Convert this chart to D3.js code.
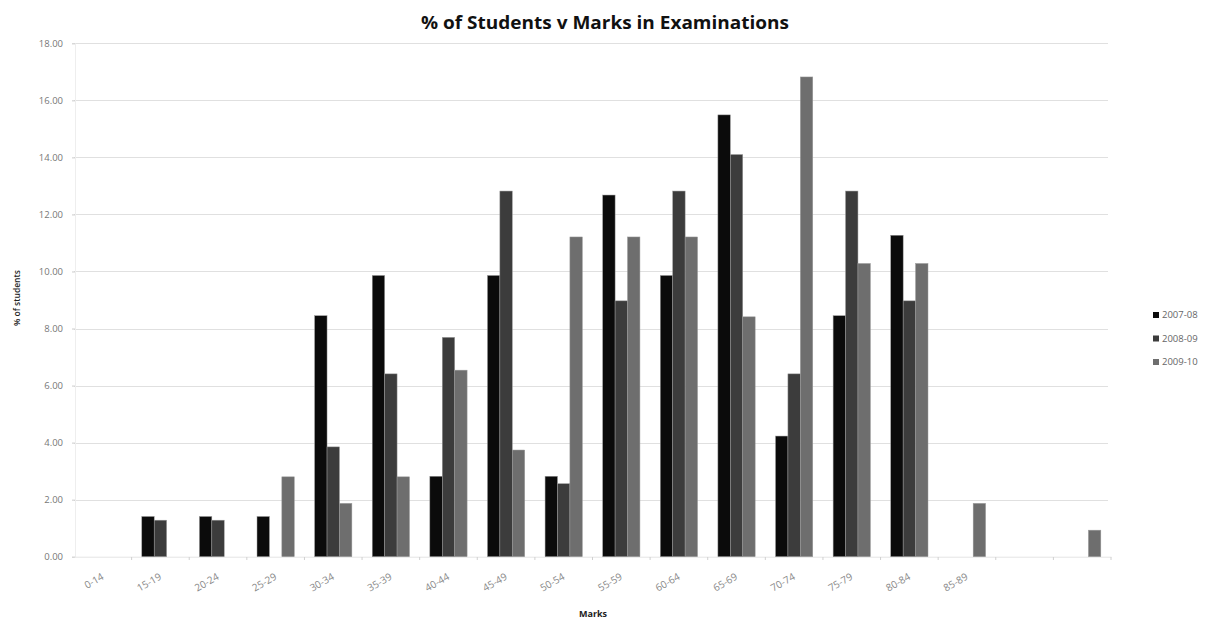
<!DOCTYPE html>
<html>
<head>
<meta charset="utf-8">
<script src="https://cdn.jsdelivr.net/npm/d3@7"></script>
<style>
  html, body { margin: 0; padding: 0; background: #fff; }
  svg { display: block; }
</style>
</head>
<body>
<svg id="chart" width="1210" height="619"></svg>
<script>
// ---- data ----
const categories = ["0-14","15-19","20-24","25-29","30-34","35-39","40-44","45-49","50-54","55-59","60-64","65-69","70-74","75-79","80-84","85-89","90-94","95-100"];
const tickLabels = ["0-14","15-19","20-24","25-29","30-34","35-39","40-44","45-49","50-54","55-59","60-64","65-69","70-74","75-79","80-84","85-89","",""];
const seriesNames = ["2007-08","2008-09","2009-10"];
const values2007 = [0,1.41,1.41,1.41,8.45,9.86,2.82,9.86,2.82,12.68,9.86,15.49,4.23,8.45,11.27,0,0,0];
const values2008 = [0,1.28,1.28,0,3.85,6.41,7.69,12.82,2.56,8.97,12.82,14.10,6.41,12.82,8.97,0,0,0];
const values2009 = [0,0,0,2.80,1.87,2.80,6.54,3.74,11.21,11.21,11.21,8.41,16.82,10.28,10.28,1.87,0,0.93];
const yTicks = [0,2,4,6,8,10,12,14,16,18];
const seriesColors = ["#0b0b0b","#3c3c3c","#6e6e6e"];

const seriesValues = [values2007, values2008, values2009];

const svg = d3.select("#chart");
const x0 = d3.scaleBand().domain(categories).range([74, 1111]).paddingInner(0).paddingOuter(0);
const x1 = d3.scaleBand().domain(seriesNames).range([0, x0.bandwidth()]).paddingInner(0).paddingOuter(0.82);
const y = d3.scaleLinear().domain([0, 18]).range([556.7, 43.3]);

const font = "'Open Sans', 'DejaVu Sans', sans-serif";

// gridlines
svg.append("g").selectAll("line").data(yTicks.filter(d => d > 0)).join("line")
  .attr("x1", 74).attr("x2", 1108)
  .attr("y1", d => Math.round(y(d)) + 0.5).attr("y2", d => Math.round(y(d)) + 0.5)
  .attr("stroke", "#e0e0e0").attr("stroke-width", 1);

// y axis
const yAxis = d3.axisLeft(y).tickValues(yTicks).tickFormat(d3.format(".2f")).tickSize(3).tickPadding(9);
const gy = svg.append("g").attr("transform", "translate(75,0)").call(yAxis);
gy.select(".domain").attr("stroke", "#eeeeee");
gy.selectAll(".tick line").attr("stroke", "#cccccc");
gy.selectAll("text").attr("font-family", font).attr("font-size", 9.5).attr("fill", "#777");

// x axis
const xAxis = d3.axisBottom(x0).tickFormat((d, i) => tickLabels[i]).tickSize(0).tickPadding(0);
const gx = svg.append("g").attr("transform", "translate(0,556.7)").call(xAxis);
gx.select(".domain").attr("stroke", "#e4e4e4");
gx.selectAll(".tick text")
  .attr("font-family", font).attr("font-size", 10).attr("fill", "#888")
  .attr("text-anchor", "end")
  .attr("transform", "translate(0,19) rotate(-30)")
  .attr("dy", "0.35em").attr("y", 0);

// small tick marks at band boundaries
svg.append("g").selectAll("line").data(categories).join("line")
  .attr("x1", d => x0(d) + x0.bandwidth()).attr("x2", d => x0(d) + x0.bandwidth())
  .attr("y1", 557).attr("y2", 560)
  .attr("stroke", "#d0d0d0");

// bars
const groups = svg.append("g").selectAll("g").data(categories).join("g")
  .attr("transform", d => `translate(${x0(d)},0)`);
groups.selectAll("rect")
  .data((d, i) => seriesNames.map((s, j) => ({s, j, v: seriesValues[j][i]})))
  .join("rect")
  .filter(d => d.v > 0)
  .attr("x", d => x1(d.s))
  .attr("width", x1.bandwidth())
  .attr("y", d => y(d.v))
  .attr("height", d => y(0) - y(d.v))
  .attr("fill", d => seriesColors[d.j])
  .attr("stroke", "#9a9a9a").attr("stroke-width", 0.5);

// title
svg.append("text").attr("x", 605).attr("y", 29).attr("text-anchor", "middle")
  .attr("font-family", font).attr("font-weight", "bold").attr("font-size", 18.5).attr("fill", "#111")
  .attr("textLength", 368).attr("lengthAdjust", "spacingAndGlyphs")
  .text("% of Students v Marks in Examinations");

// axis titles
svg.append("text").attr("x", 593).attr("y", 617).attr("text-anchor", "middle")
  .attr("font-family", font).attr("font-weight", "bold").attr("font-size", 9).attr("fill", "#222")
  .text("Marks");
svg.append("text").attr("transform", "translate(20,298) rotate(-90)").attr("text-anchor", "middle")
  .attr("font-family", font).attr("font-weight", "600").attr("font-size", 8.5).attr("fill", "#222")
  .text("% of students");

// legend
const leg = svg.append("g").selectAll("g").data(seriesNames).join("g")
  .attr("transform", (d, i) => `translate(1153,${315 + i * 23.5})`);
leg.append("rect").attr("x", 0).attr("y", -3).attr("width", 6).attr("height", 6)
  .attr("fill", (d, i) => seriesColors[i]);
leg.append("text").attr("x", 9).attr("y", 0).attr("dy", "0.35em")
  .attr("font-family", font).attr("font-size", 9.5).attr("fill", "#666").text(d => d);
</script>
</body>
</html>
